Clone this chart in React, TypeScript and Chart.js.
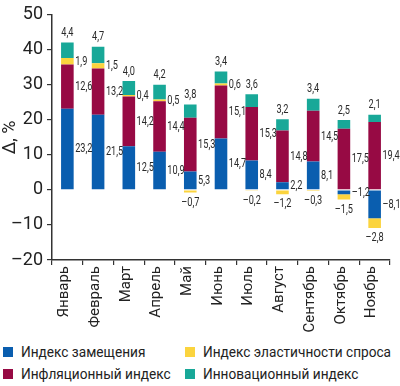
import React, { useEffect, useRef } from "react";
import { Chart, registerables } from "chart.js";

Chart.register(...registerables);

const FONT = "Roboto, 'Noto Sans', sans-serif";

const months = ["Январь", "Февраль", "Март", "Апрель", "Май", "Июнь", "Июль", "Август", "Сентябрь", "Октябрь", "Ноябрь"];
const substitution = [23.2, 21.5, 12.5, 10.9, 5.3, 14.7, 8.4, 2.2, 8.1, -1.2, -8.1];
const inflation = [12.6, 13.2, 14.2, 14.4, 15.3, 15.1, 15.3, 14.8, 14.5, 17.5, 19.4];
const elasticity = [1.9, 1.5, 0.4, 0.5, -0.7, 0.6, -0.2, -1.2, -0.3, -1.5, -2.8];
const innovation = [4.4, 4.7, 4.0, 4.2, 3.8, 3.4, 3.6, 3.2, 3.4, 2.5, 2.1];

const seriesNames = ["Индекс замещения", "Инфляционный индекс", "Индекс эластичности спроса", "Инновационный индекс"];
const colors = ["#0a5eaf", "#970a44", "#fbd43e", "#18a898"];

const fmt = (v: number) => {
  const s = Math.abs(v).toFixed(1).replace(".", ",");
  return v < 0 ? "\u2013" + s : s;
};

const SX = 0.68;

const drawText = (ctx: CanvasRenderingContext2D, txt: string, x: number, y: number, align: CanvasTextAlign, baseline: CanvasTextBaseline) => {
  ctx.save();
  ctx.translate(x, y);
  ctx.scale(SX, 1);
  ctx.textAlign = align;
  ctx.textBaseline = baseline;
  ctx.fillText(txt, 0, 0);
  ctx.restore();
};

const labelPlugin = {
  id: "valueLabels",
  afterDatasetsDraw(chart: any) {
    const ctx = chart.ctx as CanvasRenderingContext2D;
    ctx.save();
    ctx.font = `13.5px ${FONT}`;
    ctx.fillStyle = "#2a2a2a";
    chart.data.datasets.forEach((ds: any, di: number) => {
      const meta = chart.getDatasetMeta(di);
      meta.data.forEach((el: any, i: number) => {
        const v = ds.data[i] as number;
        const { x, y, base, width } = el.getProps(["x", "y", "base", "width"], true);
        const txt = fmt(v);
        const top = Math.min(y, base);
        const bot = Math.max(y, base);
        const mid = (y + base) / 2;
        if (di === 3) {
          drawText(ctx, txt, x, top - 3, "center", "bottom");
        } else if (di === 2 && v < 0) {
          drawText(ctx, txt, x, bot + 3, "center", "top");
        } else {
          drawText(ctx, txt, x + width / 2 + 1.5, mid, "left", "middle");
        }
      });
    });
    ctx.restore();
  },
};

export default function App() {
  const ref = useRef<HTMLCanvasElement>(null);
  useEffect(() => {
    if (!ref.current) return;
    const data = [substitution, inflation, elasticity, innovation];
    const chart = new Chart(ref.current, {
      type: "bar",
      data: {
        labels: months,
        datasets: data.map((d, i) => ({
          label: seriesNames[i],
          data: d,
          backgroundColor: colors[i],
          borderWidth: 0,
          barPercentage: 0.41,
          categoryPercentage: 1,
        })),
      },
      options: {
        responsive: false,
        animation: false,
        devicePixelRatio: 1,
        layout: { padding: { top: 12, right: 10, left: 0, bottom: 0 } },
        plugins: {
          legend: { display: false },
          tooltip: { enabled: false },
        },
        scales: {
          x: {
            stacked: true,
            grid: { drawOnChartArea: false, offset: true, tickLength: 5, color: "#333", lineWidth: 1.2 },
            border: { color: "#333", width: 1.5 },
            ticks: {
              minRotation: 90,
              maxRotation: 90,
              autoSkip: false,
              padding: 1,
              labelOffset: -3,
              color: "#222",
              font: { family: FONT, size: 15 },
            },
            afterFit: (s: any) => {
              s.height = 80;
            },
          },
          y: {
            stacked: true,
            min: -20,
            max: 50,
            grid: { drawOnChartArea: false, tickLength: 5, color: "#333", lineWidth: 1.2 },
            border: { color: "#333", width: 1.5 },
            ticks: {
              stepSize: 10,
              padding: 4,
              color: "#222",
              font: { family: FONT, size: 18 },
              callback: (v: any) => (Number(v) < 0 ? "\u2013" + Math.abs(Number(v)) : String(v)),
            },
            title: {
              display: true,
              text: "Δ, %",
              color: "#222",
              font: { family: FONT, size: 18 },
              padding: { top: 0, bottom: 0 },
            },
            afterFit: (s: any) => {
              s.width = 52;
            },
          },
        },
      },
      plugins: [labelPlugin],
    } as any);
    return () => chart.destroy();
  }, []);

  const legendItems = [
    { i: 0, x: 3, y: 347 },
    { i: 2, x: 185, y: 347 },
    { i: 1, x: 3, y: 369 },
    { i: 3, x: 185, y: 369 },
  ];

  return (
    <div style={{ position: "absolute", left: 0, top: 0, width: 400, height: 386, background: "#fff", overflow: "hidden" }}>
      <canvas ref={ref} width={400} height={340} style={{ display: "block", width: 400, height: 340 }} />
      {legendItems.map((it) => (
        <div key={it.i} style={{ position: "absolute", left: it.x, top: it.y, display: "flex", alignItems: "center", height: 10 }}>
          <div style={{ width: 10, height: 10, background: colors[it.i], flex: "none" }} />
          <span
            style={{
              marginLeft: 8,
              font: `15.5px ${FONT}`,
              color: "#222",
              whiteSpace: "nowrap",
              lineHeight: "10px",
              display: "inline-block",
              transform: "scaleX(0.88)",
              transformOrigin: "left center",
            }}
          >
            {seriesNames[it.i]}
          </span>
        </div>
      ))}
    </div>
  );
}
